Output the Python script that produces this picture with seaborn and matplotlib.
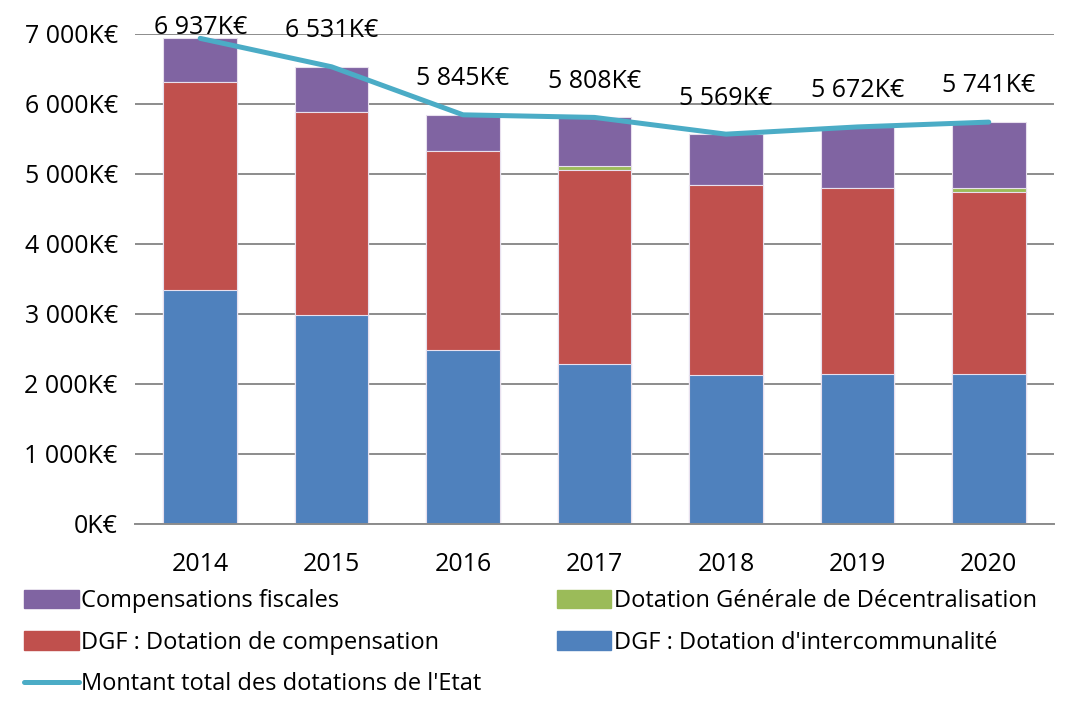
import numpy as np
import pandas as pd
import matplotlib
matplotlib.use('Agg')
import matplotlib.pyplot as plt
import matplotlib.ticker as mticker
from matplotlib.patches import Patch
from matplotlib.lines import Line2D
import seaborn as sns

# Data (K€)
annees = ['2014', '2015', '2016', '2017', '2018', '2019', '2020']
dgf_intercommunalite = [3339, 2981, 2481, 2290, 2124, 2138, 2138]
dgf_compensation = [2978, 2899, 2854, 2768, 2721, 2656, 2603]
dotation_decentralisation = [0, 0, 0, 57, 0, 0, 53]
compensations_fiscales = [620, 651, 510, 693, 724, 878, 947]
montant_total = [6937, 6531, 5845, 5808, 5569, 5672, 5741]

sns.set_style('white')
plt.rcParams['font.family'] = ['Open Sans', 'DejaVu Sans']
plt.rcParams['text.color'] = 'black'
plt.rcParams['xtick.color'] = 'black'
plt.rcParams['ytick.color'] = 'black'

c_violet = '#8064A2'
c_vert = '#9BBB59'
c_rouge = '#C0504D'
c_bleu = '#4F81BD'
c_ligne = '#4BACC6'
fs = 18

df = pd.DataFrame({
    'annee': annees,
    'bleu': dgf_intercommunalite,
    'rouge': dgf_compensation,
    'vert': dotation_decentralisation,
    'violet': compensations_fiscales,
    'total': montant_total,
})
# cumulative tops for stacked drawing (largest first)
df['c_rouge'] = df['bleu'] + df['rouge']
df['c_vert'] = df['c_rouge'] + df['vert']
df['c_violet'] = df['c_vert'] + df['violet']

fig = plt.figure(figsize=(10.76, 7.02), dpi=100)
ax = fig.add_axes([0.125, 0.2536, 0.855, 0.698])

largeur = 0.56
for col, coul in [('c_violet', c_violet), ('c_vert', c_vert),
                  ('c_rouge', c_rouge), ('bleu', c_bleu)]:
    sns.barplot(data=df, x='annee', y=col, color=coul, width=largeur,
                saturation=1, edgecolor='#e8e0ee', linewidth=0.8, ax=ax, zorder=2)

sns.lineplot(data=df, x='annee', y='total', color=c_ligne, linewidth=3.6,
             ax=ax, zorder=4, sort=False)

for i, v in enumerate(montant_total):
    txt = f'{v:,}'.replace(',', ' ') + 'K€'
    dy = 26 if i > 0 else 8  # first label is pushed down to stay in the frame
    ax.annotate(txt, (i, v), xytext=(0, dy), textcoords='offset points',
                ha='center', va='center', fontsize=fs, zorder=5,
                annotation_clip=False)

ax.set_ylim(0, 7000)
ax.set_xlim(-0.5, 6.5)
ax.yaxis.set_major_locator(mticker.MultipleLocator(1000))
ax.yaxis.set_major_formatter(mticker.FuncFormatter(
    lambda v, p: f'{int(v):,}'.replace(',', ' ') + 'K€'))
ax.grid(axis='y', color='#8c8c8c', linewidth=1.4, zorder=0)
ax.set_axisbelow(True)
for s in ['top', 'right', 'left']:
    ax.spines[s].set_visible(False)
ax.spines['bottom'].set_color('#8c8c8c')
ax.spines['bottom'].set_linewidth(1.4)
ax.tick_params(axis='both', length=0, labelsize=fs)
ax.tick_params(axis='x', pad=20)
ax.tick_params(axis='y', pad=12)
ax.set_xlabel('')
ax.set_ylabel('')

handles = [
    Patch(color=c_violet, label='Compensations fiscales'),
    Patch(color=c_rouge, label='DGF : Dotation de compensation'),
    Line2D([0], [0], color=c_ligne, linewidth=3.6, label="Montant total des dotations de l'Etat"),
    Patch(color=c_vert, label='Dotation Générale de Décentralisation'),
    Patch(color=c_bleu, label="DGF : Dotation d'intercommunalité"),
]
fig.legend(handles=handles, ncol=2, loc='lower left', bbox_to_anchor=(0.003, -0.022),
           frameon=False, fontsize=17, handlelength=2.3, handleheight=0.8,
           handletextpad=0.1, columnspacing=3.2, labelspacing=0.74)

fig.savefig('out.png', dpi=100)
